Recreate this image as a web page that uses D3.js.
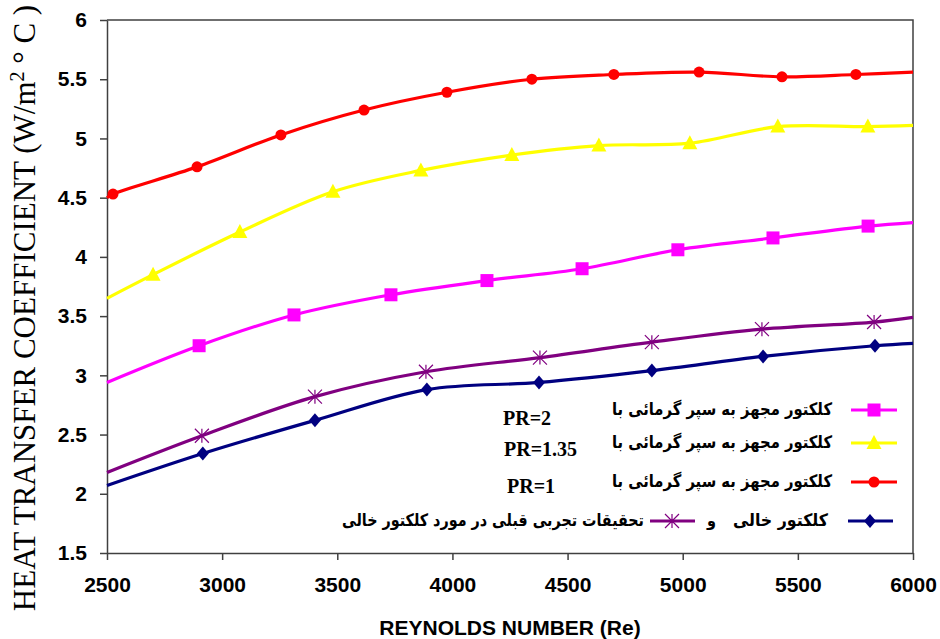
<!DOCTYPE html>
<html>
  <head>
    <meta charset="utf-8" />
    <script src="https://d3js.org/d3.v7.min.js"></script>
    <style>
      body { margin: 0; background: #fff; }
      .tick text { font: bold 21px "Liberation Sans", Arial, sans-serif; fill: #000; }
      .domain, .tick line { stroke: #404040; stroke-width: 1.5; }
    </style>
  </head>
  <body>
    <div id="my_chart"></div>
    <script>
      // axis ticks
      const reTicks = [2500, 3000, 3500, 4000, 4500, 5000, 5500, 6000];
      const hTicks = [1.5, 2, 2.5, 3, 3.5, 4, 4.5, 5, 5.5, 6];

      // PR=1 (red, circles)
      const pr1Re = [2526, 2891, 3255, 3616, 3976, 4345, 4701, 5071, 5431, 5752];
      const pr1H = [4.53, 4.76, 5.03, 5.24, 5.39, 5.5, 5.54, 5.56, 5.52, 5.54];
      const pr1Ends = [4.5, 5.56];

      // PR=1.35 (yellow, triangles)
      const pr135Re = [2700, 3077, 3481, 3863, 4258, 4636, 5031, 5413, 5804];
      const pr135H = [3.85, 4.21, 4.55, 4.73, 4.86, 4.94, 4.96, 5.1, 5.1];
      const pr135Ends = [3.65, 5.11];

      // PR=2 (magenta, squares)
      const pr2Re = [2900, 3312, 3733, 4150, 4563, 4979, 5392, 5805];
      const pr2H = [3.25, 3.51, 3.68, 3.8, 3.9, 4.06, 4.16, 4.26];
      const pr2Ends = [2.94, 4.29];

      // previous experimental work, empty collector (purple, asterisks)
      const prevRe = [2912, 3403, 3885, 4380, 4866, 5344, 5831];
      const prevH = [2.49, 2.82, 3.03, 3.15, 3.28, 3.39, 3.45];
      const prevEnds = [2.18, 3.49];

      // empty collector (navy, diamonds)
      const emptyRe = [2916, 3403, 3889, 4376, 4866, 5349, 5835];
      const emptyH = [2.34, 2.62, 2.88, 2.94, 3.04, 3.16, 3.25];
      const emptyEnds = [2.07, 3.27];

      const legendText = "کلکتور مجهز به سپر گرمائی با";
      const emptyText = "کلکتور خالی";
      const prevText = "تحقیقات تجربی قبلی  در مورد کلکتور خالی";

      const series = [
        { re: pr2Re, h: pr2H, ends: pr2Ends, color: "#ff00ff", marker: "square", label: legendText, pr: "PR=2" },
        { re: pr135Re, h: pr135H, ends: pr135Ends, color: "#ffff00", marker: "triangle", label: legendText, pr: "PR=1.35" },
        { re: pr1Re, h: pr1H, ends: pr1Ends, color: "#ff0000", marker: "circle", label: legendText, pr: "PR=1" },
        { re: prevRe, h: prevH, ends: prevEnds, color: "#800080", marker: "asterisk" },
        { re: emptyRe, h: emptyH, ends: emptyEnds, color: "#000080", marker: "diamond", label: emptyText },
      ];

      const W = 940, H = 639;
      const svg = d3.select("#my_chart").append("svg")
        .attr("width", W).attr("height", H);

      const x = d3.scaleLinear().domain([2500, 6000]).range([107, 913]);
      const y = d3.scaleLinear().domain([1.5, 6]).range([553, 20]);

      // axes
      svg.append("g")
        .attr("transform", "translate(0,553)")
        .call(d3.axisBottom(x).tickValues(reTicks).tickSize(7).tickPadding(17).tickSizeOuter(0)
          .tickFormat(d3.format("d")));
      svg.append("g")
        .attr("transform", "translate(107,0)")
        .call(d3.axisLeft(y).tickValues(hTicks).tickSize(7).tickPadding(13).tickSizeOuter(0)
          .tickFormat(d3.format("")));
      // top and right border of the plot area
      svg.append("path")
        .attr("d", `M${x(2500)},${y(6)}H${x(6000)}V${y(1.5)}`)
        .attr("fill", "none").attr("stroke", "#404040").attr("stroke-width", 1.5);

      function drawMarker(g, type, color, cx, cy) {
        if (type === "circle") {
          g.append("circle").attr("cx", cx).attr("cy", cy).attr("r", 5.5).attr("fill", color);
        } else if (type === "square") {
          g.append("rect").attr("x", cx - 6.5).attr("y", cy - 6.5)
            .attr("width", 13).attr("height", 13).attr("fill", color);
        } else if (type === "triangle") {
          g.append("path").attr("d", `M${cx},${cy - 8}L${cx + 7.5},${cy + 6}L${cx - 7.5},${cy + 6}Z`)
            .attr("fill", color);
        } else if (type === "diamond") {
          g.append("path").attr("d", `M${cx},${cy - 7}L${cx + 6},${cy}L${cx},${cy + 7}L${cx - 6},${cy}Z`)
            .attr("fill", color);
        } else if (type === "asterisk") {
          const r = 7;
          g.append("path")
            .attr("d", `M${cx},${cy - r}V${cy + r}M${cx - r},${cy - r}L${cx + r},${cy + r}M${cx - r},${cy + r}L${cx + r},${cy - r}`)
            .attr("stroke", color).attr("stroke-width", 1.2).attr("fill", "none");
        }
      }

      const line = d3.line()
        .x((d) => x(d[0]))
        .y((d) => y(d[1]))
        .curve(d3.curveCatmullRom.alpha(0.5));

      series.forEach((s) => {
        const pts = [[2500, s.ends[0]], ...s.re.map((r, i) => [r, s.h[i]]), [6000, s.ends[1]]];
        svg.append("path")
          .attr("d", line(pts))
          .attr("fill", "none")
          .attr("stroke", s.color)
          .attr("stroke-width", 3.2);
        const g = svg.append("g");
        s.re.forEach((r, i) => drawMarker(g, s.marker, s.color, x(r), y(s.h[i])));
      });

      // legend
      const legendRows = [410, 443, 482, 521];
      const persian = "bold 17px 'DejaVu Sans', sans-serif";
      const leg = svg.append("g");
      function persianText(right, ty, txt, len) {
        leg.append("text").attr("x", right - len).attr("y", ty)
          .attr("textLength", len).attr("lengthAdjust", "spacingAndGlyphs")
          .style("font", persian).text(txt);
      }
      [0, 1, 2].forEach((i) => {
        const s = series[i];
        const ly = legendRows[i];
        leg.append("line").attr("x1", 851).attr("x2", 897).attr("y1", ly).attr("y2", ly)
          .attr("stroke", s.color).attr("stroke-width", 3.2);
        drawMarker(leg, s.marker, s.color, 874, ly);
        persianText(832, ly + 5, s.label, 220);
        leg.append("text").attr("x", [503, 504, 507][i]).attr("y", ly + [15, 13, 11][i])
          .style("font", "bold 20px 'Liberation Serif', 'Times New Roman', serif")
          .text(s.pr);
      });
      // last row: empty collector and previous work
      const ly = legendRows[3];
      leg.append("line").attr("x1", 848).attr("x2", 893).attr("y1", ly).attr("y2", ly)
        .attr("stroke", series[4].color).attr("stroke-width", 3.2);
      drawMarker(leg, "diamond", series[4].color, 870, ly);
      persianText(828, ly + 5, emptyText, 95);
      persianText(716, ly + 5, "و", 9);
      leg.append("line").attr("x1", 650).attr("x2", 695).attr("y1", ly).attr("y2", ly)
        .attr("stroke", series[3].color).attr("stroke-width", 3.2);
      drawMarker(leg, "asterisk", series[3].color, 672, ly);
      persianText(644, ly + 5, prevText, 302);

      // axis titles
      svg.append("text")
        .attr("x", 510).attr("y", 635)
        .attr("text-anchor", "middle")
        .style("font", "bold 21px 'Liberation Sans', Arial, sans-serif")
        .text("REYNOLDS NUMBER (Re)");

      const yt = svg.append("text")
        .attr("transform", "translate(35,308) rotate(-90)")
        .attr("text-anchor", "middle")
        .style("font", "31px 'Liberation Serif', 'Times New Roman', serif");
      yt.append("tspan").text("HEAT TRANSFER COEFFICIENT (W/m");
      yt.append("tspan").attr("dy", -11).style("font-size", "20px").text("2");
      yt.append("tspan").attr("dy", 11).text(" ° C )");
    </script>
  </body>
</html>
